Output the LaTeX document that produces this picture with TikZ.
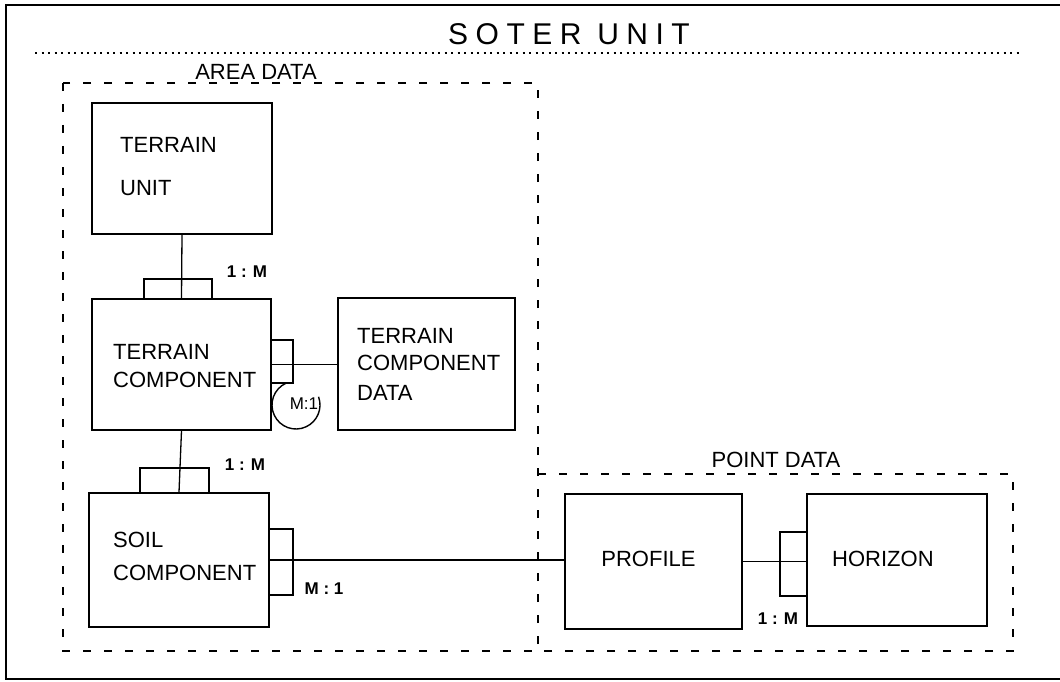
\documentclass[tikz,border=0pt]{standalone}
\usepackage{fontspec}
\setmainfont{Liberation Sans}
\newfontfamily\titlefont[LetterSpace=25]{Liberation Sans}
\tikzset{
  ent/.style={draw, line width=1.5pt, inner sep=0pt},
  lab/.style={font=\fontsize{22}{26}\selectfont, anchor=west, inner sep=0pt},
  card/.style={font=\bfseries\fontsize{17}{20}\selectfont, inner sep=0pt},
  conn/.style={line width=1.3pt},
  grp/.style={line width=2.4pt, dash pattern=on 8pt off 13pt},
}
\begin{document}
\begin{tikzpicture}[x=1pt,y=-1pt]
\useasboundingbox (0,0) rectangle (1060,682);
% outer frame
\draw[line width=2pt] (1065,5) -- (6,5) -- (6,679) -- (1065,679);
\node[inner sep=0pt, font=\titlefont\fontsize{30}{34}\selectfont] (title) at (569,34) {SOTER UNIT};
\draw[line width=1.6pt, dash pattern=on 2pt off 4.5pt] (35,53) -- (1022,53);
% groups
\draw[grp] (63,83) rectangle (538,651);
\draw[grp] (538,474) -- (1013,474) -- (1013,651) -- (538,651);
\node[inner sep=0pt, anchor=base, font=\fontsize{22}{26}\selectfont] (area) at (256,80) {AREA DATA};
\node[inner sep=0pt, anchor=base, font=\fontsize{22}{26}\selectfont] (point) at (776,467) {POINT DATA};
% entities
\node[ent, minimum width=180pt, minimum height=131pt] (tu) at (182,168.5) {};
\node[ent, minimum width=179pt, minimum height=131pt] (tc) at (181.5,364.5) {};
\node[ent, minimum width=177pt, minimum height=132pt] (tcd) at (426.5,364) {};
\node[ent, minimum width=180pt, minimum height=134pt] (sc) at (179,560) {};
\node[ent, minimum width=177pt, minimum height=135pt] (pr) at (653.5,561.5) {};
\node[ent, minimum width=180pt, minimum height=132pt] (ho) at (897,560) {};
% entity texts
\node[lab] (tu1) at (120,145) {TERRAIN};
\node[lab] (tu2) at (120,188) {UNIT};
\node[lab] (tc1) at (113,352) {TERRAIN};
\node[lab] (tc2) at (113,380) {COMPONENT};
\node[lab] (tcd1) at (357,336) {TERRAIN};
\node[lab] (tcd2) at (357,363) {COMPONENT};
\node[lab] (tcd3) at (357,393) {DATA};
\node[lab] (sc1) at (113,540) {SOIL};
\node[lab] (sc2) at (113,573) {COMPONENT};
\node[lab, anchor=center] (pr1) at (648.5,559) {PROFILE};
\node[lab] (ho1) at (832,559) {HORIZON};
% connectors
\draw[conn] (tu.south) -- (tc.north);
\draw[conn] (tc.south) -- (sc.north);
\draw[conn] (tc.east) -- (tc.east -| tcd.west);
\draw[conn] (sc.east) -- (sc.east -| pr.west);
\draw[conn] (pr.east) -- (pr.east -| ho.west);
% crow's feet boxes
\draw[conn] (144,299) -- (144,279) -- (212,279) -- (212,299);
\draw[conn] (140,493) -- (140,468) -- (209,468) -- (209,493);
\draw[conn] (271,340) -- (293,340) -- (293,383) -- (271,383);
\draw[conn] (269,529) -- (293,529) -- (293,595) -- (269,595);
\draw[conn] (807,532) -- (780,532) -- (780,596) -- (807,596);
% cardinalities
\node[card] (c1) at (247,272) {1 : M};
\node[card] (c2) at (245,465) {1 : M};
\node[card] (c3) at (324,589) {M : 1};
\node[card] (c4) at (778,619) {1 : M};
% handwritten note
\draw[line width=1.4pt] (296,405) ++(115:24pt) arc[start angle=115, end angle=380, radius=24pt];
\node[inner sep=0pt, font=\fontsize{17}{19}\selectfont] (hw) at (304,404) {M:1};
\end{tikzpicture}
\end{document}
